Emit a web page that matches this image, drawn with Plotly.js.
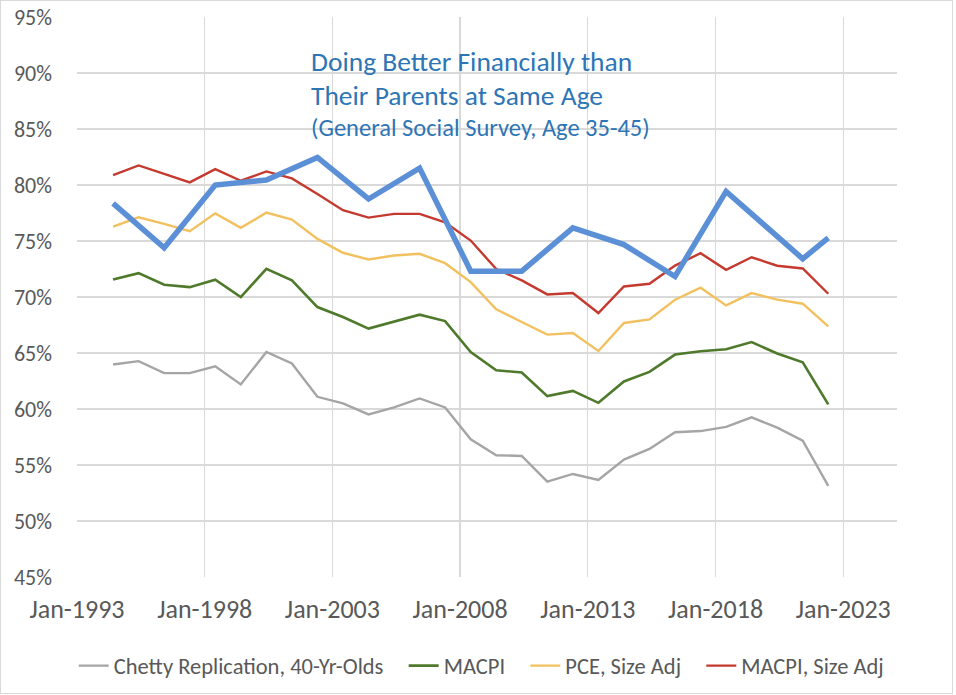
<!DOCTYPE html>
<html>
<head>
<meta charset="utf-8">
<script src="https://cdn.plot.ly/plotly-3.0.1.min.js"></script>
<style>
  html, body { margin: 0; padding: 0; background: #ffffff; }
  #wrap { position: relative; width: 956px; height: 695px; }
  #chart { position: absolute; left: 0; top: 0; width: 956px; height: 695px; }
  #frame { position: absolute; left: 0; top: 0; width: 953px; height: 694px; box-sizing: border-box;
           border: 1.5px solid #d9d9d9; pointer-events: none; }
</style>
</head>
<body>
<div id="wrap"><div id="chart"></div><div id="frame"></div></div>
<script>
// ---- Data ----
const years = [1994, 1995, 1996, 1997, 1998, 1999, 2000, 2001, 2002, 2003, 2004, 2005, 2006, 2007, 2008,
               2009, 2010, 2011, 2012, 2013, 2014, 2015, 2016, 2017, 2018, 2019, 2020, 2021, 2022];
const chetty = [63.97, 64.27, 63.2, 63.2, 63.82, 62.19, 65.09, 64.06, 61.09, 60.5, 59.52, 60.14, 60.94, 60.14, 57.29,
                55.87, 55.81, 53.52, 54.2, 53.67, 55.48, 56.43, 57.92, 58.03, 58.41, 59.25, 58.33, 57.17, 53.13];
const macpi = [71.57, 72.13, 71.1, 70.88, 71.54, 69.99, 72.52, 71.48, 69.1, 68.21, 67.18, 67.77, 68.42, 67.85, 65.09,
               63.46, 63.26, 61.15, 61.62, 60.55, 62.46, 63.31, 64.86, 65.16, 65.33, 65.98, 64.95, 64.17, 60.41];
const pceSizeAdj = [76.29, 77.12, 76.53, 75.87, 77.47, 76.17, 77.53, 76.91, 75.19, 73.95, 73.35, 73.7, 73.86, 73.02, 71.33,
                    68.9, 67.77, 66.64, 66.79, 65.18, 67.68, 68.0, 69.76, 70.83, 69.25, 70.35, 69.76, 69.4, 67.38];
const macpiSizeAdj = [80.89, 81.75, 81.0, 80.23, 81.42, 80.38, 81.21, 80.59, 79.2, 77.75, 77.09, 77.42, 77.42, 76.67, 75.04,
                      72.5, 71.48, 70.23, 70.35, 68.57, 70.94, 71.18, 72.8, 73.91, 72.43, 73.55, 72.79, 72.55, 70.29];
const gssYears = [1994, 1996, 1998, 2000, 2002, 2004, 2006, 2008, 2010, 2012, 2014, 2016, 2018, 2021, 2022];
const gssBetter = [78.36, 74.39, 80.0, 80.45, 82.46, 78.75, 81.51, 72.31, 72.31, 76.17, 74.68, 71.83, 79.43, 73.41, 75.28];

const seriesNames = ["Chetty Replication, 40-Yr-Olds", "MACPI", "PCE, Size Adj", "MACPI, Size Adj"];
const titleLines = ["Doing Better Financially than", "Their Parents at Same Age", "(General Social Survey, Age 35-45)"];

// ---- Build traces ----
const toDate = y => y + "-06-01";
const FONT = "Carlito, Lato, sans-serif";
const xs = years.map(toDate);
const PAD = "\u00A0\u00A0\u00A0";   // spacing after legend entries

function line(y, name, color, width, padded) {
  return { type: "scatter", mode: "lines", x: xs, y: y, name: padded ? name + PAD : name,
           line: { color: color, width: width }, hoverinfo: "x+y+name" };
}

const traces = [
  line(chetty, seriesNames[0], "#a5a5a5", 2.4, true),
  line(macpi, seriesNames[1], "#4f7a2c", 2.6, true),
  line(pceSizeAdj, seriesNames[2], "#f2c15f", 2.4, true),
  line(macpiSizeAdj, seriesNames[3], "#c43a2f", 2.4, false),
  { type: "scatter", mode: "lines", x: gssYears.map(toDate), y: gssBetter, name: "GSS",
    showlegend: false, line: { color: "#5b8fd6", width: 5.5 } }
];

const layout = {
  width: 956, height: 695,
  margin: { l: 77, r: 59, t: 17, b: 118, pad: 0, autoexpand: false },
  paper_bgcolor: "#ffffff", plot_bgcolor: "#ffffff",
  font: { family: FONT, color: "#595959" },
  showlegend: true,
  xaxis: {
    type: "date",
    range: ["1993-01-01", "2025-02-08"],
    tick0: "1993-01-01", dtick: "M60",
    tickformat: "%b-%Y",
    showgrid: true, gridcolor: "#d9d9d9", gridwidth: 1.3,
    zeroline: false, showline: false, ticks: "",
    tickfont: { family: FONT, size: 26, color: "#595959" },
    ticklabelstandoff: 14
  },
  yaxis: {
    range: [45, 95], dtick: 5, tick0: 45,
    ticksuffix: "%",
    showgrid: true, gridcolor: "#d9d9d9", gridwidth: 1.3,
    zeroline: false, showline: false, ticks: "",
    tickfont: { family: FONT, size: 22, color: "#595959" },
    ticklabelstandoff: 24
  },
  legend: {
    orientation: "h", xref: "paper", yref: "paper",
    x: -0.004, xanchor: "left", y: -0.159, yanchor: "middle",
    font: { family: FONT, size: 22.5, color: "#595959" },
    itemwidth: 30, tracegroupgap: 0, bgcolor: "rgba(0,0,0,0)"
  },
  annotations: [
    { xref: "paper", yref: "paper", x: 0.283, y: 0.920, xanchor: "left", yanchor: "middle",
      text: titleLines[0], showarrow: false, font: { family: FONT, size: 27.5, color: "#2e75b6" } },
    { xref: "paper", yref: "paper", x: 0.283, y: 0.860, xanchor: "left", yanchor: "middle",
      text: titleLines[1], showarrow: false, font: { family: FONT, size: 27.5, color: "#2e75b6" } },
    { xref: "paper", yref: "paper", x: 0.283, y: 0.802, xanchor: "left", yanchor: "middle",
      text: titleLines[2], showarrow: false, font: { family: FONT, size: 24.5, color: "#2e75b6" } }
  ]
};

Plotly.newPlot("chart", traces, layout, { displayModeBar: false, staticPlot: true });
</script>
</body>
</html>
